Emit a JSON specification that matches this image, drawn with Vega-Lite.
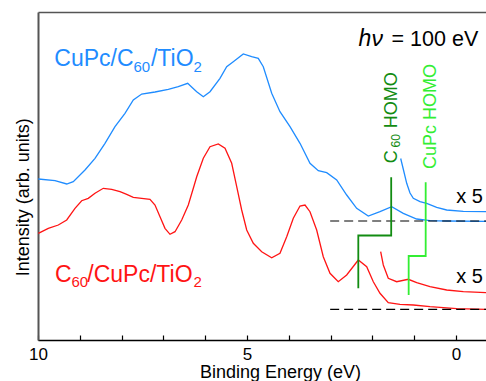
{
  "$schema": "https://vega.github.io/schema/vega-lite/v6.json",
  "width": 448,
  "height": 328,
  "autosize": "none",
  "padding": {"left": 38, "top": 12, "right": 0, "bottom": 41},
  "background": "white",
  "config": {"view": {"stroke": null}, "font": "Liberation Sans"},
  "datasets": {
    "curves": [
      {"c":"b","s":"blue","e":9.993,"v":161},{"c":"b","s":"blue","e":9.593,"v":159.3},{"c":"b","s":"blue","e":9.313,"v":156},{"c":"b","s":"blue","e":9.156,"v":158.3},{"c":"b","s":"blue","e":8.876,"v":170},{"c":"b","s":"blue","e":8.636,"v":181.7},{"c":"b","s":"blue","e":8.397,"v":196.7},{"c":"b","s":"blue","e":8.158,"v":213.3},{"c":"b","s":"blue","e":7.919,"v":226.7},{"c":"b","s":"blue","e":7.72,"v":240},{"c":"b","s":"blue","e":7.519,"v":246},{"c":"b","s":"blue","e":7.201,"v":248},{"c":"b","s":"blue","e":6.883,"v":250.7},{"c":"b","s":"blue","e":6.644,"v":253.3},{"c":"b","s":"blue","e":6.419,"v":256.7},{"c":"b","s":"blue","e":6.3,"v":252},{"c":"b","s":"blue","e":6.203,"v":248.3},{"c":"b","s":"blue","e":6.045,"v":243.3},{"c":"b","s":"blue","e":5.885,"v":248.3},{"c":"b","s":"blue","e":5.646,"v":261.7},{"c":"b","s":"blue","e":5.486,"v":273.3},{"c":"b","s":"blue","e":5.328,"v":278.3},{"c":"b","s":"blue","e":5.089,"v":286},{"c":"b","s":"blue","e":4.888,"v":283.3},{"c":"b","s":"blue","e":4.73,"v":281.7},{"c":"b","s":"blue","e":4.61,"v":273.3},{"c":"b","s":"blue","e":4.409,"v":246.7},{"c":"b","s":"blue","e":4.211,"v":228.3},{"c":"b","s":"blue","e":3.971,"v":213.3},{"c":"b","s":"blue","e":3.732,"v":196.7},{"c":"b","s":"blue","e":3.493,"v":176.7},{"c":"b","s":"blue","e":3.294,"v":169.3},{"c":"b","s":"blue","e":3.093,"v":167.3},{"c":"b","s":"blue","e":2.854,"v":160},{"c":"b","s":"blue","e":2.615,"v":145},{"c":"b","s":"blue","e":2.376,"v":131.7},{"c":"b","s":"blue","e":2.098,"v":124},{"c":"b","s":"blue","e":1.818,"v":128.3},{"c":"b","s":"blue","e":1.538,"v":133.3},{"c":"b","s":"blue","e":1.261,"v":126.7},{"c":"b","s":"blue","e":0.94,"v":121},{"c":"b","s":"blue","e":0.622,"v":119.3},{"c":"b","s":"blue","e":0.222,"v":119},{"c":"b","s":"blue","e":-0.718,"v":118.7},
      {"c":"b5","s":"blue","e":1.323,"v":181.5},{"c":"b5","s":"blue","e":1.256,"v":170},{"c":"b5","s":"blue","e":1.179,"v":156.7},{"c":"b5","s":"blue","e":1.1,"v":147},{"c":"b5","s":"blue","e":1.021,"v":141.7},{"c":"b5","s":"blue","e":0.861,"v":138.3},{"c":"b5","s":"blue","e":0.701,"v":136.7},{"c":"b5","s":"blue","e":0.462,"v":132.7},{"c":"b5","s":"blue","e":0.222,"v":130},{"c":"b5","s":"blue","e":-0.175,"v":128.7},{"c":"b5","s":"blue","e":-0.718,"v":128.3},
      {"c":"r","s":"red","e":9.993,"v":106.7},{"c":"r","s":"red","e":9.754,"v":111.7},{"c":"r","s":"red","e":9.514,"v":115},{"c":"r","s":"red","e":9.313,"v":120},{"c":"r","s":"red","e":9.115,"v":131.7},{"c":"r","s":"red","e":8.955,"v":139.3},{"c":"r","s":"red","e":8.797,"v":141.7},{"c":"r","s":"red","e":8.636,"v":146.7},{"c":"r","s":"red","e":8.438,"v":151.7},{"c":"r","s":"red","e":8.237,"v":150.7},{"c":"r","s":"red","e":8.038,"v":148.3},{"c":"r","s":"red","e":7.878,"v":145.7},{"c":"r","s":"red","e":7.72,"v":142.7},{"c":"r","s":"red","e":7.519,"v":141.7},{"c":"r","s":"red","e":7.321,"v":140.7},{"c":"r","s":"red","e":7.201,"v":135},{"c":"r","s":"red","e":7.081,"v":123.3},{"c":"r","s":"red","e":6.962,"v":111.7},{"c":"r","s":"red","e":6.842,"v":105.7},{"c":"r","s":"red","e":6.722,"v":108.3},{"c":"r","s":"red","e":6.562,"v":120},{"c":"r","s":"red","e":6.404,"v":135},{"c":"r","s":"red","e":6.261,"v":155},{"c":"r","s":"red","e":6.203,"v":163.3},{"c":"r","s":"red","e":6.045,"v":181.7},{"c":"r","s":"red","e":5.885,"v":193.3},{"c":"r","s":"red","e":5.687,"v":196},{"c":"r","s":"red","e":5.526,"v":191.7},{"c":"r","s":"red","e":5.366,"v":176.7},{"c":"r","s":"red","e":5.246,"v":153.3},{"c":"r","s":"red","e":5.127,"v":130},{"c":"r","s":"red","e":5.007,"v":110},{"c":"r","s":"red","e":4.849,"v":96.7},{"c":"r","s":"red","e":4.648,"v":88.3},{"c":"r","s":"red","e":4.409,"v":82.3},{"c":"r","s":"red","e":4.211,"v":86.7},{"c":"r","s":"red","e":4.05,"v":103.3},{"c":"r","s":"red","e":3.892,"v":121.7},{"c":"r","s":"red","e":3.732,"v":134},{"c":"r","s":"red","e":3.612,"v":135},{"c":"r","s":"red","e":3.493,"v":128.3},{"c":"r","s":"red","e":3.333,"v":110},{"c":"r","s":"red","e":3.175,"v":83.3},{"c":"r","s":"red","e":3.014,"v":66.7},{"c":"r","s":"red","e":2.816,"v":58.3},{"c":"r","s":"red","e":2.615,"v":65},{"c":"r","s":"red","e":2.337,"v":80},{"c":"r","s":"red","e":2.136,"v":73.3},{"c":"r","s":"red","e":1.978,"v":58.3},{"c":"r","s":"red","e":1.818,"v":46.7},{"c":"r","s":"red","e":1.62,"v":37.3},{"c":"r","s":"red","e":1.34,"v":35.7},{"c":"r","s":"red","e":1.021,"v":35},{"c":"r","s":"red","e":0.622,"v":33.3},{"c":"r","s":"red","e":-0.017,"v":31.3},{"c":"r","s":"red","e":-0.718,"v":30.7},
      {"c":"r5","s":"red","e":1.802,"v":88.3},{"c":"r5","s":"red","e":1.739,"v":75},{"c":"r5","s":"red","e":1.62,"v":61.7},{"c":"r5","s":"red","e":1.419,"v":58.3},{"c":"r5","s":"red","e":1.141,"v":60.7},{"c":"r5","s":"red","e":0.94,"v":57.3},{"c":"r5","s":"red","e":0.622,"v":53.3},{"c":"r5","s":"red","e":0.222,"v":50},{"c":"r5","s":"red","e":-0.175,"v":48.3},{"c":"r5","s":"red","e":-0.718,"v":47.3}
    ],
    "dashes": [
      {"c":"bd","s":"k","e":3.01,"v":119},{"c":"bd","s":"k","e":-0.718,"v":119},
      {"c":"rd","s":"k","e":3.01,"v":30.7},{"c":"rd","s":"k","e":-0.718,"v":30.7}
    ],
    "steps": [
      {"c":"g1","s":"dg","i":0,"e":1.55,"v":162.7},{"c":"g1","s":"dg","i":1,"e":1.55,"v":104.5},{"c":"g1","s":"dg","i":2,"e":2.337,"v":104.5},{"c":"g1","s":"dg","i":3,"e":2.337,"v":51.7},
      {"c":"g2","s":"lg","i":0,"e":0.725,"v":157.7},{"c":"g2","s":"lg","i":1,"e":0.725,"v":84},{"c":"g2","s":"lg","i":2,"e":1.132,"v":84},{"c":"g2","s":"lg","i":3,"e":1.132,"v":45}
    ],
    "bigText": [
      {"t":"CuPc/C","s":"blue","e":9.61,"v":274.3},{"t":"/TiO","s":"blue","e":7.297,"v":274.3},
      {"t":"C","s":"red","e":9.593,"v":58.3},{"t":"/CuPc/TiO","s":"red","e":8.82,"v":58.3}
    ],
    "subText": [
      {"t":"60","s":"blue","e":7.715,"v":268.3},{"t":"2","s":"blue","e":6.28,"v":268.3},
      {"t":"60","s":"red","e":9.2,"v":53.3},{"t":"2","s":"red","e":6.28,"v":53.3}
    ],
    "hnu": [{"t":"hν","s":"k","e":2.33,"v":294.3}],
    "energy": [{"t":"= 100 eV","s":"k","e":-0.533,"v":294.3}],
    "times": [{"t":"x 5","s":"k","e":-0.323,"v":136.7},{"t":"x 5","s":"k","e":-0.323,"v":56.7}],
    "rotText": [
      {"t":"C","s":"dg","e":1.418,"v":176.7},{"t":"HOMO","s":"dg","e":1.418,"v":211.7},
      {"t":"CuPc HOMO","s":"lg","e":0.467,"v":171}
    ],
    "rotSub": [{"t":"60","s":"dg","e":1.34,"v":192.5}]
  },
  "resolve": {"axis": {"x": "independent", "y": "independent"}},
  "layer": [
    {
      "data": {"name": "curves"},
      "mark": {"type": "line", "strokeWidth": 1.3},
      "encoding": {
        "x": {"field": "e", "type": "quantitative",
          "scale": {"domain": [-0.718, 10], "reverse": true, "nice": false, "zero": false},
          "axis": {"orient": "bottom", "values": [10,9,8,7,6,5,4,3,2,1,0],
            "labelExpr": "datum.value % 5 === 0 ? datum.label : ''",
            "tickSize": -5, "tickColor": "#000", "tickWidth": 1.2,
            "domainColor": "#000", "domainWidth": 1.5,
            "labelFontSize": 17, "labelBaseline": "alphabetic", "labelPadding": 24,
            "labelColor": "#000", "labelFlush": false, "labelOverlap": false, "grid": false,
            "title": "Binding Energy (eV)", "titleFontSize": 18, "titleFontWeight": "normal",
            "titleColor": "#000", "titleX": 242, "titleY": 37.3, "titleAlign": "center",
            "titleBaseline": "alphabetic"}},
        "y": {"field": "v", "type": "quantitative",
          "scale": {"domain": [0, 328], "nice": false, "zero": false},
          "axis": {"orient": "left", "ticks": false, "labels": false, "grid": false,
            "domainColor": "#555", "domainWidth": 2,
            "title": "Intensity (arb. units)", "titleFontSize": 18, "titleFontWeight": "normal",
            "titleColor": "#000", "titleAngle": 270, "titleX": -9.5, "titleY": 184.7,
            "titleAlign": "center", "titleBaseline": "alphabetic"}},
        "detail": {"field": "c"},
        "color": {"field": "s", "type": "nominal", "legend": null,
          "scale": {"domain": ["blue","red","dg","lg","k"], "range": ["#1f8cff","#ff1414","#128c12","#33ee33","#000000"]}}
      }
    },
    {
      "data": {"name": "dashes"},
      "mark": {"type": "line", "strokeWidth": 1.2, "strokeDash": [9, 5]},
      "encoding": {
        "x": {"field": "e", "type": "quantitative",
          "scale": {"domain": [-0.718, 10], "reverse": true, "nice": false, "zero": false},
          "axis": {"orient": "top", "ticks": false, "labels": false, "grid": false, "title": null,
            "domainColor": "#555", "domainWidth": 1.5}},
        "y": {"field": "v", "type": "quantitative", "scale": {"domain": [0, 328], "nice": false, "zero": false}, "axis": null},
        "detail": {"field": "c"},
        "color": {"field": "s", "type": "nominal", "legend": null}
      }
    },
    {
      "data": {"name": "steps"},
      "mark": {"type": "line", "strokeWidth": 1.8},
      "encoding": {
        "x": {"field": "e", "type": "quantitative", "scale": {"domain": [-0.718, 10], "reverse": true, "nice": false, "zero": false}, "axis": null},
        "y": {"field": "v", "type": "quantitative", "scale": {"domain": [0, 328], "nice": false, "zero": false}, "axis": null},
        "detail": {"field": "c"},
        "order": {"field": "i", "type": "quantitative"},
        "color": {"field": "s", "type": "nominal", "legend": null}
      }
    },
    {
      "data": {"name": "bigText"},
      "mark": {"type": "text", "fontSize": 23, "align": "left", "baseline": "alphabetic"},
      "encoding": {
        "x": {"field": "e", "type": "quantitative", "scale": {"domain": [-0.718, 10], "reverse": true, "nice": false, "zero": false}, "axis": null},
        "y": {"field": "v", "type": "quantitative", "scale": {"domain": [0, 328], "nice": false, "zero": false}, "axis": null},
        "text": {"field": "t"},
        "color": {"field": "s", "type": "nominal", "legend": null}
      }
    },
    {
      "data": {"name": "subText"},
      "mark": {"type": "text", "fontSize": 15, "align": "left", "baseline": "alphabetic"},
      "encoding": {
        "x": {"field": "e", "type": "quantitative", "scale": {"domain": [-0.718, 10], "reverse": true, "nice": false, "zero": false}, "axis": null},
        "y": {"field": "v", "type": "quantitative", "scale": {"domain": [0, 328], "nice": false, "zero": false}, "axis": null},
        "text": {"field": "t"},
        "color": {"field": "s", "type": "nominal", "legend": null}
      }
    },
    {
      "data": {"name": "hnu"},
      "mark": {"type": "text", "fontSize": 23, "fontStyle": "italic", "align": "left", "baseline": "alphabetic"},
      "encoding": {
        "x": {"field": "e", "type": "quantitative", "scale": {"domain": [-0.718, 10], "reverse": true, "nice": false, "zero": false}, "axis": null},
        "y": {"field": "v", "type": "quantitative", "scale": {"domain": [0, 328], "nice": false, "zero": false}, "axis": null},
        "text": {"field": "t"},
        "color": {"field": "s", "type": "nominal", "legend": null}
      }
    },
    {
      "data": {"name": "energy"},
      "mark": {"type": "text", "fontSize": 21.5, "align": "right", "baseline": "alphabetic"},
      "encoding": {
        "x": {"field": "e", "type": "quantitative", "scale": {"domain": [-0.718, 10], "reverse": true, "nice": false, "zero": false}, "axis": null},
        "y": {"field": "v", "type": "quantitative", "scale": {"domain": [0, 328], "nice": false, "zero": false}, "axis": null},
        "text": {"field": "t"},
        "color": {"field": "s", "type": "nominal", "legend": null}
      }
    },
    {
      "data": {"name": "times"},
      "mark": {"type": "text", "fontSize": 20, "align": "center", "baseline": "alphabetic"},
      "encoding": {
        "x": {"field": "e", "type": "quantitative", "scale": {"domain": [-0.718, 10], "reverse": true, "nice": false, "zero": false}, "axis": null},
        "y": {"field": "v", "type": "quantitative", "scale": {"domain": [0, 328], "nice": false, "zero": false}, "axis": null},
        "text": {"field": "t"},
        "color": {"field": "s", "type": "nominal", "legend": null}
      }
    },
    {
      "data": {"name": "rotText"},
      "mark": {"type": "text", "fontSize": 18, "angle": 270, "align": "left", "baseline": "alphabetic"},
      "encoding": {
        "x": {"field": "e", "type": "quantitative", "scale": {"domain": [-0.718, 10], "reverse": true, "nice": false, "zero": false}, "axis": null},
        "y": {"field": "v", "type": "quantitative", "scale": {"domain": [0, 328], "nice": false, "zero": false}, "axis": null},
        "text": {"field": "t"},
        "color": {"field": "s", "type": "nominal", "legend": null}
      }
    },
    {
      "data": {"name": "rotSub"},
      "mark": {"type": "text", "fontSize": 12, "angle": 270, "align": "left", "baseline": "alphabetic"},
      "encoding": {
        "x": {"field": "e", "type": "quantitative", "scale": {"domain": [-0.718, 10], "reverse": true, "nice": false, "zero": false}, "axis": null},
        "y": {"field": "v", "type": "quantitative", "scale": {"domain": [0, 328], "nice": false, "zero": false}, "axis": null},
        "text": {"field": "t"},
        "color": {"field": "s", "type": "nominal", "legend": null}
      }
    }
  ]
}
